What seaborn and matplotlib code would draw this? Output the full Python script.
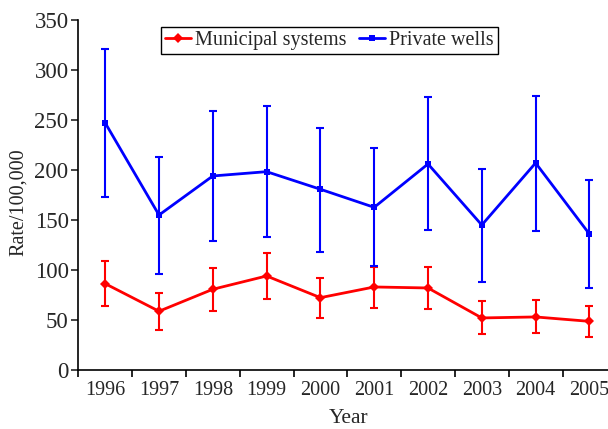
import numpy as np
import pandas as pd
import matplotlib
matplotlib.use("Agg")
import matplotlib.pyplot as plt
import seaborn as sns

years = ["1996", "1997", "1998", "1999", "2000", "2001", "2002", "2003", "2004", "2005"]

municipal = [86.1, 58.5, 80.5, 93.8, 72.1, 82.8, 81.8, 51.8, 52.8, 48.4]
municipal_low = [63.5, 39.7, 58.8, 71.1, 52.1, 61.5, 60.8, 35.4, 36.4, 33.0]
municipal_high = [109.1, 77.1, 101.8, 116.8, 91.8, 103.1, 103.1, 68.5, 69.5, 63.5]

private = [247.0, 154.8, 193.9, 198.2, 180.6, 162.5, 205.9, 144.8, 206.9, 135.8]
private_low = [173.2, 96.1, 128.8, 132.8, 117.8, 104.1, 139.5, 88.1, 139.1, 81.5]
private_high = [320.7, 213.2, 259.2, 264.2, 242.2, 221.6, 272.6, 201.2, 274.2, 190.2]

series_names = ["Municipal systems", "Private wells"]
colors = ["#ff0000", "#0000ff"]
markers = ["D", "s"]

sns.set_style("ticks")
plt.rcParams["font.family"] = ["Liberation Serif", "DejaVu Serif"]
plt.rcParams["font.size"] = 15

fig = plt.figure(figsize=(6.08, 4.29), dpi=100)
ax = fig.add_axes([78.3 / 608, 1 - 369.7 / 429, (616.3 - 78.3) / 608, (369.7 - 20) / 429])

x = np.arange(len(years))
df = pd.DataFrame({
    "x": np.concatenate([x, x]),
    "rate": municipal + private,
    "series": [series_names[0]] * len(x) + [series_names[1]] * len(x),
})

sns.lineplot(data=df, x="x", y="rate", hue="series", style="series",
             palette=dict(zip(series_names, colors)),
             markers=dict(zip(series_names, markers)), dashes=False,
             linewidth=2, markersize=5, markeredgewidth=0, ax=ax, legend=True)

for vals, lo, hi, c in [(municipal, municipal_low, municipal_high, colors[0]),
                        (private, private_low, private_high, colors[1])]:
    v = np.array(vals)
    yerr = np.vstack([v - np.array(lo), np.array(hi) - v])
    ax.errorbar(x, v, yerr=yerr, fmt="none", ecolor=c, elinewidth=1.5,
                capsize=3, capthick=1.5, zorder=1)

ax.set_xlim(-0.5, len(years) - 0.5)
ax.set_ylim(0, 350)
ax.set_yticks(np.arange(0, 351, 50))
ax.set_xticks(np.arange(-0.5, len(years), 1.0))
ax.set_xticklabels([])
ax.set_xticks(x, minor=True)
ax.set_xticklabels(years, minor=True)
ax.tick_params(axis="x", which="major", direction="out", length=5, width=1.2, color="black")
ax.tick_params(axis="x", which="minor", length=0, pad=8, labelsize=14.5)
ax.tick_params(axis="y", direction="out", length=5, width=1.2, labelsize=16.5, pad=2)

ax.set_xlabel("Year", fontsize=15.5)
ax.set_ylabel("Rate/100,000", fontsize=14.5)
ax.xaxis.set_label_coords(0.503, -0.112)
ax.yaxis.set_label_coords(-0.094, 0.48)

for s in ["top", "right"]:
    ax.spines[s].set_visible(False)
for s in ["left", "bottom"]:
    ax.spines[s].set_color("black")
    ax.spines[s].set_linewidth(1.2)
ax.grid(False)

leg = ax.legend(loc="upper center", bbox_to_anchor=(0.467, 0.981), ncol=2,
                frameon=True, fancybox=False, edgecolor="black", framealpha=1,
                handlelength=1.3, handletextpad=0.2, columnspacing=0.6,
                borderpad=0.2, borderaxespad=0, fontsize=14.5, title=None)
leg.get_frame().set_linewidth(1.0)

fig.savefig("out.png", dpi=100)
